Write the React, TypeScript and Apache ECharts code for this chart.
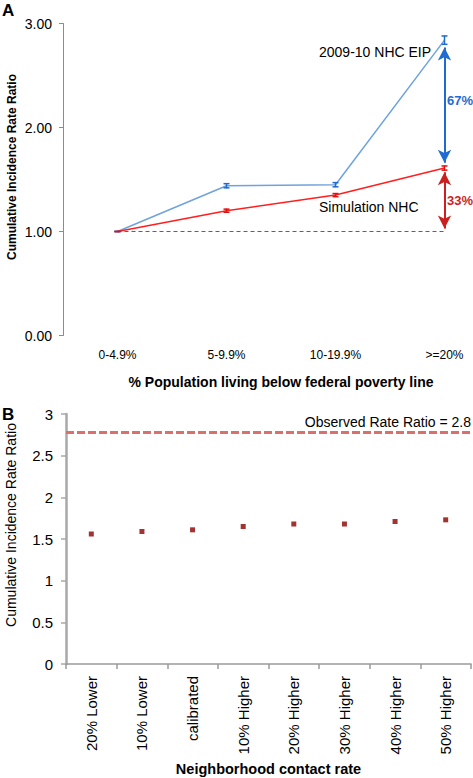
import React, { useEffect, useRef } from "react";
import * as echarts from "echarts";

// ---- Panel A data ----
const povertyCategories = ["0-4.9%", "5-9.9%", "10-19.9%", ">=20%"];
const observedEIP = [1.0, 1.44, 1.45, 2.84];
const observedEIPErr = [0, 0.02, 0.02, 0.04];
const simulatedNHC = [1.0, 1.2, 1.35, 1.61];
const simulatedNHCErr = [0, 0.015, 0.015, 0.02];
const baselineRatio = 1.0;
const blueArrowRange = [1.66, 2.77];
const redArrowRange = [1.03, 1.57];
const percentLabels = ["67%", "33%"];

// ---- Panel B data ----
const contactCategories = [
  "20% Lower",
  "10% Lower",
  "calibrated",
  "10% Higher",
  "20% Higher",
  "30% Higher",
  "40% Higher",
  "50% Higher",
];
const contactRatios = [1.56, 1.59, 1.61, 1.65, 1.68, 1.68, 1.71, 1.73];
const observedRateRatio = 2.78;

const FONT = "'Liberation Sans', Arial, Helvetica, sans-serif";
const BLUE_LINE = "#6ea3dc";
const BLUE_DARK = "#1f6bd1";
const RED_LINE = "#ff1f1f";
const RED_DARK = "#cc1f1f";

function errorBarSeries(values: number[], errs: number[], color: string) {
  return {
    type: "custom",
    xAxisIndex: 0,
    yAxisIndex: 0,
    z: 5,
    data: values.map((v, i) => [i, v - errs[i], v + errs[i]]),
    encode: { x: 0, y: [1, 2] },
    renderItem: (params: any, api: any) => {
      const x = api.value(0);
      const lo = api.coord([x, api.value(1)]);
      const hi = api.coord([x, api.value(2)]);
      const w = 3;
      const st = { stroke: color, lineWidth: 1.5 };
      return {
        type: "group",
        children: [
          { type: "line", shape: { x1: lo[0], y1: lo[1] + 0.5, x2: hi[0], y2: hi[1] - 0.5 }, style: st },
          { type: "line", shape: { x1: lo[0] - w, y1: lo[1], x2: lo[0] + w, y2: lo[1] }, style: st },
          { type: "line", shape: { x1: hi[0] - w, y1: hi[1], x2: hi[0] + w, y2: hi[1] }, style: st },
        ],
      };
    },
  };
}

export default function App() {
  const ref = useRef<HTMLDivElement>(null);

  useEffect(() => {
    if (!ref.current) return;
    const chart = echarts.init(ref.current, null, { renderer: "svg" });
    const last = povertyCategories.length - 1;

    const option: any = {
      animation: false,
      backgroundColor: "#ffffff",
      textStyle: { fontFamily: FONT },
      grid: [
        { left: 63, top: 23.5, width: 436, height: 312, outerBoundsMode: "none", containLabel: false },
        { left: 66, top: 414, width: 405, height: 250, outerBoundsMode: "none", containLabel: false },
      ],
      xAxis: [
        {
          type: "category",
          gridIndex: 0,
          data: povertyCategories,
          boundaryGap: true,
          axisLine: { show: false },
          axisTick: { show: false },
          axisLabel: { color: "#000", fontSize: 12, margin: 13, fontFamily: FONT },
          name: "% Population living below federal poverty line",
          nameLocation: "middle",
          nameGap: 39,
          nameTextStyle: { color: "#000", fontSize: 14, fontWeight: "bold", fontFamily: FONT },
        },
        {
          type: "category",
          gridIndex: 1,
          data: contactCategories,
          boundaryGap: true,
          axisLine: { show: true, lineStyle: { color: "#9a9a9a", width: 1.5 } },
          axisTick: { show: true, length: 5, lineStyle: { color: "#9a9a9a", width: 1.5 } },
          axisLabel: { color: "#000", fontSize: 15, rotate: 90, margin: 12, fontFamily: FONT },
          name: "Neighborhood contact rate",
          nameLocation: "middle",
          nameGap: 97,
          nameTextStyle: { color: "#000", fontSize: 14.5, fontWeight: "bold", fontFamily: FONT },
        },
      ],
      yAxis: [
        {
          type: "value",
          gridIndex: 0,
          min: 0,
          max: 3,
          interval: 1,
          splitLine: { show: false },
          axisLine: { show: true, lineStyle: { color: "#8c8c8c", width: 1 } },
          axisTick: { show: true, length: 4, lineStyle: { color: "#8c8c8c" } },
          axisLabel: {
            color: "#000",
            fontSize: 14,
            margin: 11,
            fontFamily: FONT,
            formatter: (v: number) => v.toFixed(2),
          },
        },
        {
          type: "value",
          gridIndex: 1,
          min: 0,
          max: 3,
          interval: 0.5,
          splitLine: { show: false },
          axisLine: { show: true, lineStyle: { color: "#a8a8a8", width: 2.5 } },
          axisTick: { show: true, length: 5, lineStyle: { color: "#a8a8a8", width: 1.5 } },
          axisLabel: { color: "#000", fontSize: 15, margin: 13, fontFamily: FONT },
        },
      ],
      series: [
        {
          type: "line",
          xAxisIndex: 0,
          yAxisIndex: 0,
          data: observedEIP,
          showSymbol: false,
          symbol: "none",
          lineStyle: { color: BLUE_LINE, width: 1.5 },
          z: 3,
          markLine: {
            silent: true,
            animation: false,
            symbol: ["arrow", "arrow"],
            symbolSize: [10, 13],
            label: { show: false },
            lineStyle: { color: BLUE_DARK, width: 2, type: "solid" },
            data: [[{ coord: [last, blueArrowRange[0]] }, { coord: [last, blueArrowRange[1]] }]],
          },
        },
        {
          type: "line",
          xAxisIndex: 0,
          yAxisIndex: 0,
          data: simulatedNHC,
          showSymbol: false,
          symbol: "none",
          lineStyle: { color: RED_LINE, width: 1.5 },
          z: 3,
          markLine: {
            silent: true,
            animation: false,
            symbol: ["arrow", "arrow"],
            symbolSize: [10, 13],
            label: { show: false },
            lineStyle: { color: RED_DARK, width: 2, type: "solid" },
            data: [
              [{ coord: [last, redArrowRange[0]] }, { coord: [last, redArrowRange[1]] }],
              [
                {
                  coord: [0, baselineRatio],
                  symbol: "none",
                  lineStyle: { color: "#d8302c", width: 1.2, type: [4, 3] },
                },
                { coord: [last, baselineRatio], symbol: "none" },
              ],
            ],
          },
        },
        errorBarSeries(observedEIP, observedEIPErr, BLUE_DARK),
        errorBarSeries(simulatedNHC, simulatedNHCErr, "#e01010"),
        {
          type: "scatter",
          xAxisIndex: 1,
          yAxisIndex: 1,
          data: contactRatios,
          symbol: "rect",
          symbolSize: 5,
          itemStyle: { color: "#8b0000" },
          markLine: {
            silent: true,
            animation: false,
            symbol: "none",
            lineStyle: { color: "#d8716c", width: 3, type: [8, 3] },
            label: {
              show: true,
              position: "insideEndTop",
              formatter: "Observed Rate Ratio = 2.8",
              color: "#000",
              fontSize: 14,
              fontFamily: FONT,
              distance: [0, 3],
            },
            data: [{ yAxis: observedRateRatio }],
          },
        },
      ],
      graphic: [
        {
          type: "text",
          x: 2,
          y: 10,
          style: { text: "A", font: `bold 17px ${FONT}`, fill: "#000", textVerticalAlign: "middle" },
        },
        {
          type: "text",
          x: 2,
          y: 414,
          style: { text: "B", font: `bold 17px ${FONT}`, fill: "#000", textVerticalAlign: "middle" },
        },
        {
          type: "text",
          x: 12,
          y: 167,
          rotation: Math.PI / 2,
          style: {
            text: "Cumulative Incidence Rate Ratio",
            font: `bold 12px ${FONT}`,
            fill: "#000",
            textAlign: "center",
            textVerticalAlign: "middle",
          },
        },
        {
          type: "text",
          x: 11,
          y: 525,
          rotation: Math.PI / 2,
          style: {
            text: "Cumulative Incidence Rate Ratio",
            font: `14px ${FONT}`,
            fill: "#000",
            textAlign: "center",
            textVerticalAlign: "middle",
          },
        },
        {
          type: "text",
          x: 319,
          y: 52,
          style: { text: "2009-10 NHC EIP", font: `14px ${FONT}`, fill: "#000", textVerticalAlign: "middle" },
        },
        {
          type: "text",
          x: 319,
          y: 207,
          style: { text: "Simulation NHC", font: `14px ${FONT}`, fill: "#000", textVerticalAlign: "middle" },
        },
        {
          type: "text",
          x: 447,
          y: 100,
          style: { text: percentLabels[0], font: `bold 13px ${FONT}`, fill: BLUE_DARK, textVerticalAlign: "middle" },
        },
        {
          type: "text",
          x: 447,
          y: 200,
          style: { text: percentLabels[1], font: `bold 13px ${FONT}`, fill: RED_DARK, textVerticalAlign: "middle" },
        },
      ],
    };

    chart.setOption(option);
    return () => chart.dispose();
  }, []);

  return (
    <div
      ref={ref}
      style={{ position: "absolute", left: 0, top: 0, width: 473, height: 778, background: "#fff" }}
    />
  );
}
